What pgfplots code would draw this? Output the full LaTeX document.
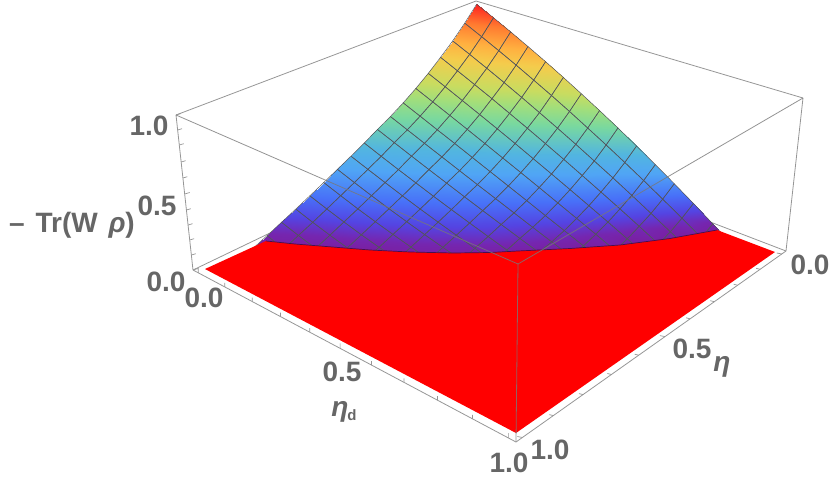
\documentclass[border=0pt]{standalone}
\usepackage{pgfplots}
\usepackage{pgfplotstable}
\usepackage{fontspec}
\setmainfont{Liberation Sans}
\pgfplotsset{compat=1.18}
\definecolor{lab}{RGB}{102,102,102}
\definecolor{boxc}{RGB}{150,150,150}
\definecolor{meshc}{RGB}{82,84,92}
\pgfplotstableread{
eta etad z
0 0 1.000
0 .0625 .941
0 .125 .879
0 .1875 .814
0 .25 .747
0 .3125 .677
0 .375 .604
0 .4375 .529
0 .5 .451
0 .5625 .370
0 .625 .287
0 .6875 .201
0 .75 .112
0 .8125 .020
0 .875 -.074
.05 0 .898
.05 .0625 .840
.05 .125 .780
.05 .1875 .718
.05 .25 .653
.05 .3125 .587
.05 .375 .518
.05 .4375 .446
.05 .5 .373
.05 .5625 .297
.05 .625 .219
.05 .6875 .138
.05 .75 .056
.05 .8125 -.029
.05 .875 -.080
.10 0 .805
.10 .0625 .749
.10 .125 .691
.10 .1875 .631
.10 .25 .569
.10 .3125 .505
.10 .375 .440
.10 .4375 .373
.10 .5 .303
.10 .5625 .233
.10 .625 .160
.10 .6875 .085
.10 .75 .009
.10 .8125 -.070
.10 .875 0
.15 0 .723
.15 .0625 .668
.15 .125 .612
.15 .1875 .555
.15 .25 .495
.15 .3125 .435
.15 .375 .373
.15 .4375 .310
.15 .5 .245
.15 .5625 .179
.15 .625 .112
.15 .6875 .043
.15 .75 -.028
.15 .8125 -.080
.15 .875 0
.20 0 .645
.20 .0625 .592
.20 .125 .537
.20 .1875 .482
.20 .25 .426
.20 .3125 .369
.20 .375 .310
.20 .4375 .251
.20 .5 .191
.20 .5625 .130
.20 .625 .068
.20 .6875 .005
.20 .75 -.059
.20 .8125 0
.20 .875 0
.25 0 .575
.25 .0625 .523
.25 .125 .471
.25 .1875 .418
.25 .25 .364
.25 .3125 .310
.25 .375 .256
.25 .4375 .201
.25 .5 .145
.25 .5625 .089
.25 .625 .032
.25 .6875 -.026
.25 .75 -.084
.25 .8125 0
.25 .875 0
.30 0 .511
.30 .0625 .461
.30 .125 .410
.30 .1875 .360
.30 .25 .309
.30 .3125 .258
.30 .375 .207
.30 .4375 .156
.30 .5 .104
.30 .5625 .053
.30 .625 .002
.30 .6875 -.050
.30 .75 0
.30 .8125 0
.30 .875 0
.35 0 .454
.35 .0625 .405
.35 .125 .356
.35 .1875 .308
.35 .25 .260
.35 .3125 .212
.35 .375 .165
.35 .4375 .118
.35 .5 .071
.35 .5625 .025
.35 .625 -.021
.35 .6875 -.067
.35 .75 0
.35 .8125 0
.35 .875 0
.40 0 .403
.40 .0625 .356
.40 .125 .309
.40 .1875 .263
.40 .25 .218
.40 .3125 .173
.40 .375 .129
.40 .4375 .086
.40 .5 .044
.40 .5625 .002
.40 .625 -.038
.40 .6875 0
.40 .75 0
.40 .8125 0
.40 .875 0
.45 0 .349
.45 .0625 .303
.45 .125 .258
.45 .1875 .215
.45 .25 .172
.45 .3125 .131
.45 .375 .091
.45 .4375 .052
.45 .5 .014
.45 .5625 -.023
.45 .625 -.058
.45 .6875 0
.45 .75 0
.45 .8125 0
.45 .875 0
.50 0 .299
.50 .0625 .255
.50 .125 .212
.50 .1875 .170
.50 .25 .130
.50 .3125 .092
.50 .375 .056
.50 .4375 .021
.50 .5 -.013
.50 .5625 -.044
.50 .625 0
.50 .6875 0
.50 .75 0
.50 .8125 0
.50 .875 0
.55 0 .250
.55 .0625 .207
.55 .125 .166
.55 .1875 .127
.55 .25 .090
.55 .3125 .055
.55 .375 .022
.55 .4375 -.009
.55 .5 -.038
.55 .5625 0
.55 .625 0
.55 .6875 0
.55 .75 0
.55 .8125 0
.55 .875 0
.60 0 .202
.60 .0625 .161
.60 .125 .121
.60 .1875 .085
.60 .25 .051
.60 .3125 .019
.60 .375 -.011
.60 .4375 -.038
.60 .5 0
.60 .5625 0
.60 .625 0
.60 .6875 0
.60 .75 0
.60 .8125 0
.60 .875 0
.65 0 .155
.65 .0625 .115
.65 .125 .078
.65 .1875 .043
.65 .25 .012
.65 .3125 -.017
.65 .375 -.043
.65 .4375 0
.65 .5 0
.65 .5625 0
.65 .625 0
.65 .6875 0
.65 .75 0
.65 .8125 0
.65 .875 0
.70 0 .109
.70 .0625 .070
.70 .125 .035
.70 .1875 .003
.70 .25 -.026
.70 .3125 -.051
.70 .375 0
.70 .4375 0
.70 .5 0
.70 .5625 0
.70 .625 0
.70 .6875 0
.70 .75 0
.70 .8125 0
.70 .875 0
.75 0 .065
.75 .0625 .028
.75 .125 -.006
.75 .1875 -.035
.75 .25 -.061
.75 .3125 0
.75 .375 0
.75 .4375 0
.75 .5 0
.75 .5625 0
.75 .625 0
.75 .6875 0
.75 .75 0
.75 .8125 0
.75 .875 0
.80 0 .021
.80 .0625 -.015
.80 .125 -.046
.80 .1875 -.074
.80 .25 0
.80 .3125 0
.80 .375 0
.80 .4375 0
.80 .5 0
.80 .5625 0
.80 .625 0
.80 .6875 0
.80 .75 0
.80 .8125 0
.80 .875 0
.85 0 -.022
.85 .0625 -.056
.85 .125 -.086
.85 .1875 0
.85 .25 0
.85 .3125 0
.85 .375 0
.85 .4375 0
.85 .5 0
.85 .5625 0
.85 .625 0
.85 .6875 0
.85 .75 0
.85 .8125 0
.85 .875 0
}\surfdata
\begin{document}
\begin{tikzpicture}
\begin{axis}[
  width=830pt,height=480pt,scale only axis,
  xmin=0,xmax=830,ymin=0,ymax=480,y dir=reverse,
  hide axis,clip=true,
  point meta min=0,point meta max=1,
  colormap={wrainbow}{
    rgb255(0pt)=(122,31,160);
    rgb255(3pt)=(117,38,176);
    rgb255(8pt)=(84,68,226);
    rgb255(15pt)=(72,112,248);
    rgb255(25pt)=(80,165,245);
    rgb255(33pt)=(82,181,224);
    rgb255(45pt)=(120,216,160);
    rgb255(53pt)=(160,222,124);
    rgb255(60pt)=(200,220,96);
    rgb255(72pt)=(244,204,76);
    rgb255(80pt)=(255,176,64);
    rgb255(90pt)=(255,122,48);
    rgb255(100pt)=(255,32,32)
  },
  declare function={
    bX(\a)=(\a+0.02)/1.04;
    bZ(\a)=0.005+0.975*\a;
    wP(\a,\b,\c)=1-0.13744*bX(\a)-0.16133*bX(\b)-0.04*bZ(\c);
    pX(\a,\b,\c)=(478+199.97*bX(\a)-316.14*bX(\b)-21*bZ(\c))/wP(\a,\b,\c);
    pY(\a,\b,\c)=(133+83.5*bX(\a)+93.44*bX(\b)-135*bZ(\c))/wP(\a,\b,\c);
  },
]
\path (axis cs:0,0) rectangle (axis cs:830,480);
% back box edges
\addplot[boxc,line width=0.8pt] coordinates {(176,115) (476,1) (803,98)};
\addplot[boxc,line width=0.8pt] coordinates {(193,270) (478,133) (786,251)};
\addplot[boxc,line width=0.8pt] coordinates {(193,270) (176,115)};
\addplot[boxc,line width=0.8pt] coordinates {(786,251) (803,98)};
% surface
\addplot[surf,shader=interp,mesh/rows=18,mesh/cols=15,point meta=\thisrow{z}]
  table[x expr={pX(\thisrow{etad},\thisrow{eta},\thisrow{z})},
        y expr={pY(\thisrow{etad},\thisrow{eta},\thisrow{z})}] {\surfdata};
\addplot[surf,shader=faceted,fill opacity=0,faceted color=meshc,line width=0.5pt,mesh/rows=18,mesh/cols=15,point meta=\thisrow{z}]
  table[x expr={pX(\thisrow{etad},\thisrow{eta},\thisrow{z})},
        y expr={pY(\thisrow{etad},\thisrow{eta},\thisrow{z})}] {\surfdata};
% clipped floor
\addplot[fill=red,draw=none] coordinates {
 (205,269) (266,241) (295,244) (320,246) (370,250) (410,252) (453,253) (490,252.5)
 (518,251) (570,248.5) (620,245) (670,238.5) (717,230) (775,252) (516,433)} -- cycle;
\addplot[color={rgb,255:red,70;green,15;blue,80},line width=0.7pt] coordinates {
 (266,241) (295,244) (320,246) (370,250) (410,252) (453,253) (490,252.5)
 (518,251) (570,248.5) (620,245) (670,238.5) (717,230)};
% front box edges
\addplot[boxc!80!black,draw opacity=0.8,line width=0.8pt] coordinates {(176,115) (518,264) (803,98)};
\addplot[boxc!80!black,draw opacity=0.8,line width=0.8pt] coordinates {(518,264) (516,442)};
\addplot[boxc,line width=0.8pt] coordinates {(193,270) (516,442) (786,251)};
% ticks
\addplot[boxc,line width=0.7pt,unbounded coords=jump] coordinates {
 (198.2,272.8) (198.2,267.8) (nan,nan)
 (224.8,286.9) (224.8,282.9) (nan,nan)
 (252.2,301.5) (252.2,297.5) (nan,nan)
 (280.5,316.6) (280.5,312.6) (nan,nan)
 (309.8,332.2) (309.8,328.2) (nan,nan)
 (340.1,348.3) (340.1,343.3) (nan,nan)
 (371.4,365.0) (371.4,361.0) (nan,nan)
 (403.9,382.3) (403.9,378.3) (nan,nan)
 (437.5,400.2) (437.5,396.2) (nan,nan)
 (472.4,418.8) (472.4,414.8) (nan,nan)
 (508.6,438.0) (508.6,433.0) (nan,nan)
 (781.8,254.0) (776.8,253.0) (nan,nan)
 (760.1,269.3) (756.1,268.3) (nan,nan)
 (737.6,285.2) (733.6,284.2) (nan,nan)
 (714.3,301.7) (710.3,300.7) (nan,nan)
 (690.1,318.8) (686.1,317.8) (nan,nan)
 (664.9,336.6) (659.9,335.6) (nan,nan)
 (638.7,355.2) (634.7,354.2) (nan,nan)
 (611.4,374.5) (607.4,373.5) (nan,nan)
 (583.0,394.6) (579.0,393.6) (nan,nan)
 (553.3,415.6) (549.3,414.6) (nan,nan)
 (522.4,437.5) (517.4,436.5) (nan,nan)
 (176,115) (181,113.5) (nan,nan)
 (177.6,130) (182,128.7) (nan,nan)
 (179.3,145) (183.7,143.7) (nan,nan)
 (181.2,162) (185.6,160.7) (nan,nan)
 (182.9,178) (187.3,176.7) (nan,nan)
 (184.7,194) (189.7,192.5) (nan,nan)
 (186.4,210) (190.8,208.7) (nan,nan)
 (188.1,225) (192.5,223.7) (nan,nan)
 (189.7,240) (194.1,238.7) (nan,nan)
 (191.4,255) (195.8,253.7) (nan,nan)
 (193,270) (198,268.5)
};
\begin{scope}[every node/.style={text=lab,font=\fontsize{28}{28}\selectfont\bfseries,inner sep=0pt,anchor=center}]
\node at (axis cs:149,126) {1.0};
\node at (axis cs:157,206) {0.5};
\node at (axis cs:166,282) {0.0};
\node at (axis cs:72,225) {–\hspace{3pt} Tr(W\hspace{3pt} \textit{ρ})};
\node at (axis cs:204,298) {0.0};
\node at (axis cs:342,372) {0.5};
\node at (axis cs:509,463) {1.0};
\node at (axis cs:550,450) {1.0};
\node at (axis cs:692,349) {0.5};
\node at (axis cs:810,265) {0.0};
\node at (axis cs:722,367) {\textit{η}};
\node at (axis cs:340,412) {\textit{η}};
\node[font=\fontsize{15}{15}\selectfont\bfseries] at (axis cs:352,415) {d};
\end{scope}
\end{axis}
\end{tikzpicture}
\end{document}
